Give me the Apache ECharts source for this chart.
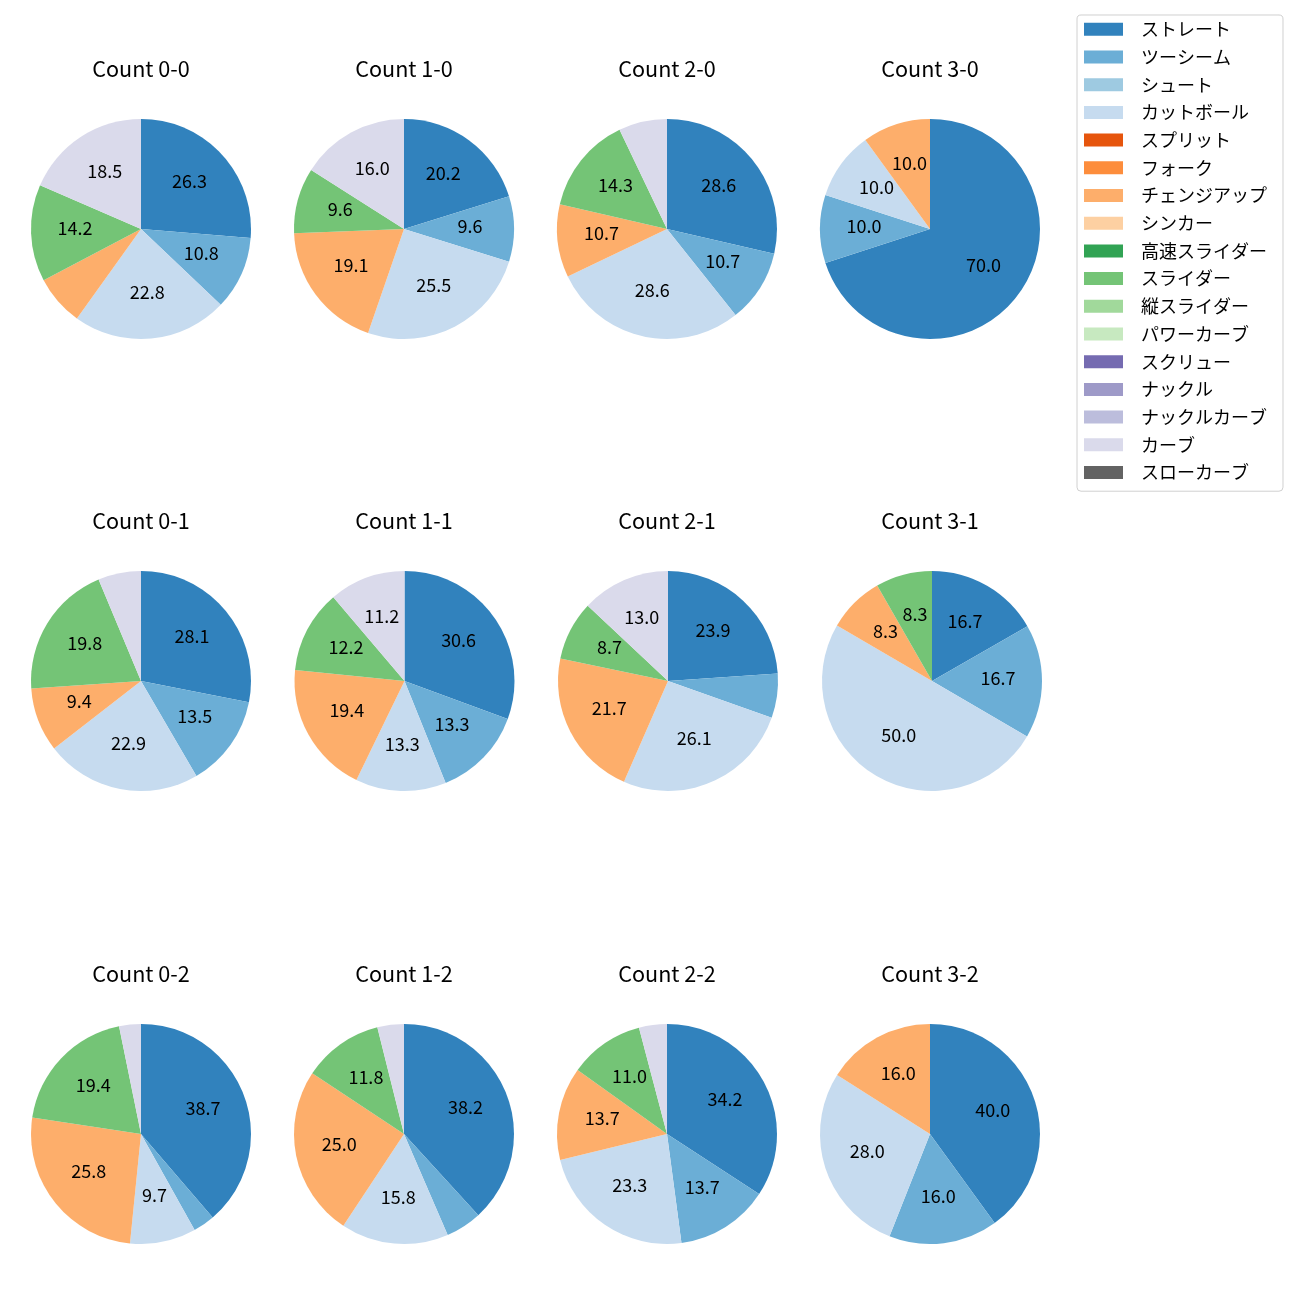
<!DOCTYPE html>
<html>
<head>
<meta charset="utf-8">
<script src="https://cdn.jsdelivr.net/npm/echarts@6/dist/echarts.min.js"></script>
<style>
html,body{margin:0;padding:0;background:#fff;}
#chart{width:1300px;height:1300px;}
</style>
</head>
<body>
<div id="chart"></div>
<script>
// Legend categories (all pitch types) and their colours
const categories = ['ストレート','ツーシーム','シュート','カットボール','スプリット','フォーク','チェンジアップ','シンカー','高速スライダー','スライダー','縦スライダー','パワーカーブ','スクリュー','ナックル','ナックルカーブ','カーブ','スローカーブ'];
const colors = ['#3182bd','#6baed6','#9ecae1','#c6dbef','#e6550d','#fd8d3c','#fdae6b','#fdd0a2','#31a354','#74c476','#a1d99b','#c7e9c0','#756bb1','#9e9ac8','#bcbddc','#dadaeb','#636363'];

// Pitch types that actually appear (order of the values below)
const usedTypes = ['ストレート','ツーシーム','カットボール','チェンジアップ','スライダー','カーブ'];

// Percentages per count
const count00 = [26.3, 10.8, 22.8, 7.4, 14.2, 18.5];
const count10 = [20.2, 9.6, 25.5, 19.1, 9.6, 16.0];
const count20 = [28.6, 10.7, 28.6, 10.7, 14.3, 7.1];
const count30 = [70.0, 10.0, 10.0, 10.0, 0, 0];
const count01 = [28.1, 13.5, 22.9, 9.4, 19.8, 6.3];
const count11 = [30.6, 13.3, 13.3, 19.4, 12.2, 11.2];
const count21 = [23.9, 6.5, 26.1, 21.7, 8.7, 13.0];
const count31 = [16.7, 16.7, 50.0, 8.3, 8.3, 0];
const count02 = [38.7, 3.2, 9.7, 25.8, 19.4, 3.2];
const count12 = [38.2, 5.3, 15.8, 25.0, 11.8, 3.9];
const count22 = [34.2, 13.7, 23.3, 13.7, 11.0, 4.1];
const count32 = [40.0, 16.0, 28.0, 16.0, 0, 0];

const panelTitles = ['Count 0-0','Count 1-0','Count 2-0','Count 3-0','Count 0-1','Count 1-1','Count 2-1','Count 3-1','Count 0-2','Count 1-2','Count 2-2','Count 3-2'];
const panelValues = [count00,count10,count20,count30,count01,count11,count21,count31,count02,count12,count22,count32];

// layout
const colX = [141, 404, 667, 930];
const rowY = [229, 681, 1134];
const pieShiftX = [0, 0, 0, 0, 0, 0.5, 1, 2, 0, 0, 0, 0];
const R = 110;
const FONT = '"Noto Sans CJK JP", "Noto Sans", sans-serif';

function buildData(vals) {
  return categories.map((name, i) => {
    const k = usedTypes.indexOf(name);
    return { name: name, value: k >= 0 ? vals[k] : 0, itemStyle: { color: colors[i] } };
  });
}

const titles = [];
const mainSeries = [];
const labelSeries = [];
panelValues.forEach((vals, p) => {
  const tx = colX[p % 4], cy = rowY[Math.floor(p / 4)];
  const cx = tx + pieShiftX[p];
  titles.push({
    text: panelTitles[p], left: tx, top: cy - 171, textAlign: 'center', padding: 0,
    textStyle: { fontFamily: FONT, fontSize: 21.6, lineHeight: 22, fontWeight: 'normal', color: '#000' }
  });
  const data = buildData(vals);
  mainSeries.push({
    type: 'pie', name: 'pie' + p, center: [cx, cy], radius: [0, R],
    startAngle: 90, clockwise: true, data: data, label: { show: false }, labelLine: { show: false },
    emphasis: { disabled: true }, silent: true
  });
  labelSeries.push({
    type: 'pie', name: 'label' + p, center: [cx, cy], radius: [16, R],
    startAngle: 90, clockwise: true, legendHoverLink: false, silent: true,
    emphasis: { disabled: true },
    data: data.map(d => ({ name: d.name, value: d.value, itemStyle: { color: 'rgba(0,0,0,0)' } })),
    label: {
      show: true, position: 'inside', fontFamily: FONT, fontSize: 18, color: '#000',
      offset: [0, -3],
      formatter: params => (params.value >= 8 ? params.value.toFixed(1) : '')
    },
    labelLine: { show: false }
  });
});

const chart = echarts.init(document.getElementById('chart'), null, { renderer: 'canvas' });
chart.setOption({
  animation: false,
  backgroundColor: '#fff',
  title: titles,
  legend: {
    orient: 'vertical', left: 1077, top: 15,
    data: categories,
    icon: 'rect', itemWidth: 39, itemHeight: 13, itemGap: 9.7,
    padding: [5.3, 16, 9.7, 7],
    borderColor: '#d0d0d0', borderWidth: 1, borderRadius: 4,
    selectedMode: false,
    textStyle: { fontFamily: FONT, fontSize: 18, lineHeight: 18, color: '#000', padding: [0, 0, 0, 13] }
  },
  series: mainSeries.concat(labelSeries)
});
</script>
</body>
</html>
